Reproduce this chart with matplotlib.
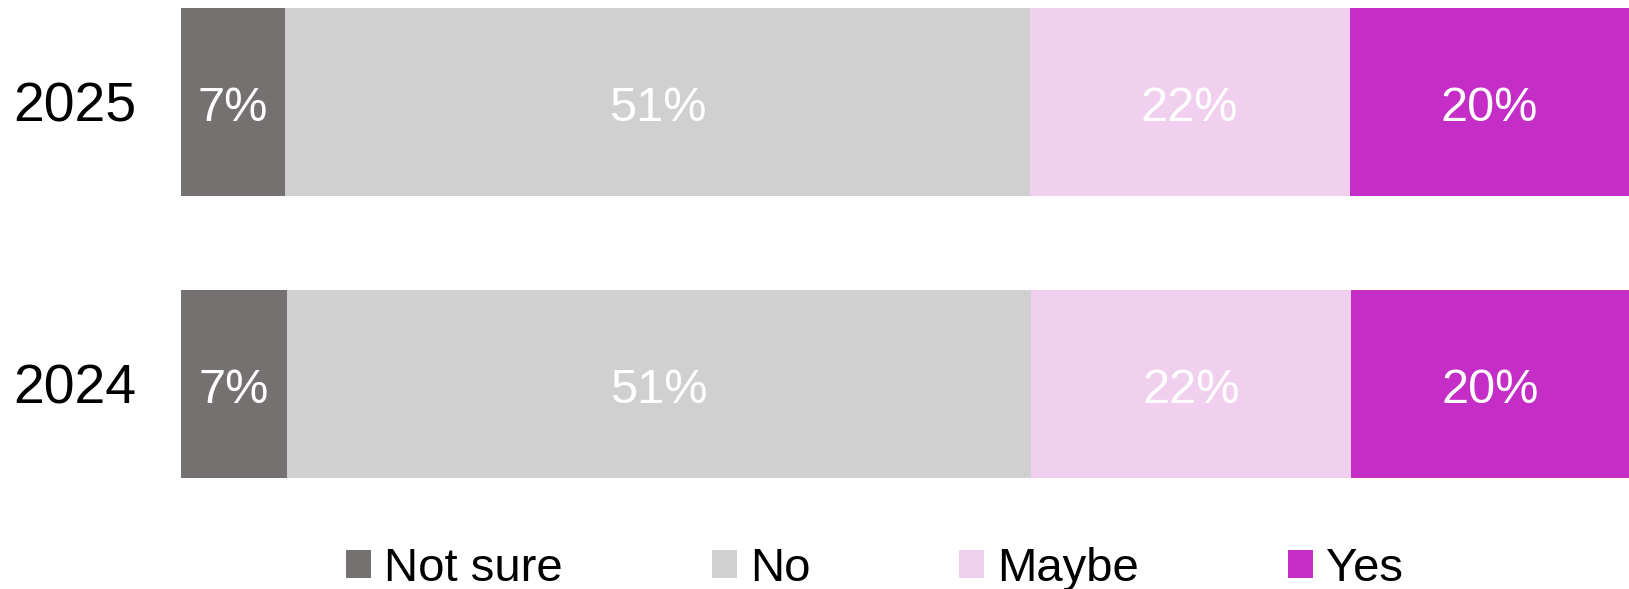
import matplotlib.pyplot as plt
from matplotlib.patches import Patch

plt.rcParams['font.family'] = ['Liberation Sans', 'DejaVu Sans']

# survey answers per year, share in %
years = ['2024', '2025']
categories = ['Not sure', 'No', 'Maybe', 'Yes']
not_sure = [7.3, 7.2]
no = [51.4, 51.4]
maybe = [22.1, 22.1]
yes = [19.2, 19.3]
labels = [['7%', '7%'], ['51%', '51%'], ['22%', '22%'], ['20%', '20%']]

colors = ['#767171', '#D0D0D0', '#F1CFEE', '#C42EC6']

fig = plt.figure(figsize=(16.29, 5.89), dpi=100)
ax = fig.add_axes([181 / 1629, 1 - 478 / 589, 1 - 181 / 1629, 470 / 589])

series = [not_sure, no, maybe, yes]
pos = list(range(len(years)))
left = [0.0] * len(years)
for vals, col, labs in zip(series, colors, labels):
    ax.barh(pos, vals, left=left, height=2 / 3, color=col, edgecolor='none')
    for i in pos:
        ax.annotate(labs[i], (left[i] + vals[i] / 2, pos[i]), xytext=(0, -5),
                    textcoords='offset points', ha='center', va='center',
                    color='white', fontsize=35)
    left = [l + v for l, v in zip(left, vals)]

ax.set_xlim(0, 100)
ax.set_ylim(-1 / 3, 4 / 3)
ax.set_yticks(pos)
ax.set_yticklabels(years, fontsize=40)
ax.tick_params(axis='y', length=0, pad=32)
for t in ax.get_yticklabels():
    t.set_va('center_baseline')
ax.set_xticks([])
for s in ax.spines.values():
    s.set_visible(False)

handles = [Patch(facecolor=c, edgecolor='none') for c in colors]
fig.legend(handles, categories, loc='center', bbox_to_anchor=(0.537, 0.034), ncol=4,
           frameon=False, fontsize=34, handlelength=0.53, handleheight=0.53,
           handletextpad=0.28, columnspacing=3.15, borderpad=0, borderaxespad=0)

fig.savefig('out.png', dpi=100)
